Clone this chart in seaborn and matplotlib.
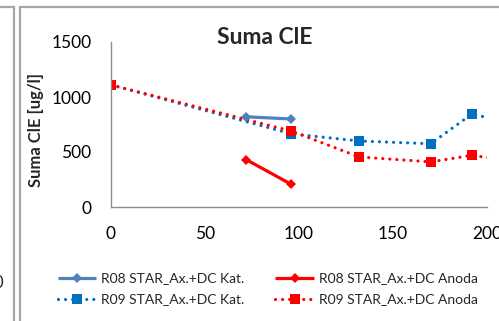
import matplotlib
matplotlib.use("Agg")
import matplotlib.pyplot as plt
from matplotlib.patches import Rectangle
import seaborn as sns
import pandas as pd

# Series data: time [days] vs. sum of chlorinated ethenes [ug/l]
r08_kat_x = [72, 96]
r08_kat_y = [820, 800]
r08_anoda_x = [72, 96]
r08_anoda_y = [430, 205]
r09_kat_x = [0, 96, 132, 170, 192, 216]
r09_kat_y = [1110, 665, 600, 575, 845, 750]
r09_anoda_x = [0, 96, 132, 170, 192, 216]
r09_anoda_y = [1110, 690, 455, 410, 470, 410]

x_ticks = [0, 50, 100, 150, 200]
y_ticks = [0, 500, 1000, 1500]

title = "Suma ClE"
y_label = "Suma ClE [ug/l]"
labels = ["R08 STAR_Ax.+DC Kat.", "R09 STAR_Ax.+DC Kat.",
          "R08 STAR_Ax.+DC Anoda", "R09 STAR_Ax.+DC Anoda"]

sns.set_theme(style="white")
plt.rcParams["font.family"] = ["Lato", "DejaVu Sans"]

W, H = 499, 321
fig = plt.figure(figsize=(W / 100, H / 100), dpi=100)
fig.patch.set_facecolor("white")

# chart frames (this chart and the edge of the neighbouring one)
frame_col = "#a6a6a6"
fig.patches.append(Rectangle((20 / W, -0.2), 1.2, (H - 7) / H + 0.2,
                             transform=fig.transFigure, fill=False,
                             edgecolor=frame_col, lw=1.6))
fig.patches.append(Rectangle((-0.5, -0.2), 0.5 + 14 / W, (H - 7) / H + 0.2,
                             transform=fig.transFigure, fill=False,
                             edgecolor=frame_col, lw=1.6))
fig.text(-6 / W, 1 - 283 / H, "0", fontsize=12, ha="left", va="center")

ax = fig.add_axes([111 / W, 1 - 207 / H, (487 - 111) / W, (207 - 42) / H])
ax.set_facecolor("none")

dot = (0, (0.01, 2.2))

def draw(xs, ys, color, ls, marker, ms, lw, label):
    df = pd.DataFrame({"x": xs, "y": ys})
    sns.lineplot(data=df, x="x", y="y", ax=ax, color=color, linestyle=ls,
                 marker=marker, markersize=ms, markeredgewidth=0,
                 linewidth=lw, sort=False, estimator=None, label=label,
                 dash_capstyle="round", solid_capstyle="butt", clip_on=True)

draw(r09_kat_x, r09_kat_y, "#0070c0", dot, "s", 7, 2.3, labels[1])
draw(r09_anoda_x, r09_anoda_y, "#ff0000", dot, "s", 7, 2.3, labels[3])
draw(r08_kat_x, r08_kat_y, "#4f81bd", "-", "D", 5.5, 2.3, labels[0])
draw(r08_anoda_x, r08_anoda_y, "#ff0000", "-", "D", 5.5, 2.3, labels[2])

ax.set_xlim(0, 200)
ax.set_ylim(0, 1500)
ax.set_xticks(x_ticks)
ax.set_yticks(y_ticks)
ax.set_xlabel("")
ax.set_ylabel("")
for side in ["top", "right"]:
    ax.spines[side].set_visible(False)
for side in ["left", "bottom"]:
    ax.spines[side].set_color("#8c8c8c")
    ax.spines[side].set_linewidth(1.0)
ax.tick_params(axis="both", length=0, labelsize=12.5, colors="black")
ax.tick_params(axis="y", pad=14)
ax.tick_params(axis="x", pad=14)

fig.text(265 / W, 1 - 37 / H, title, fontsize=16.5, fontweight="bold",
         ha="center", va="center")
fig.text(35.5 / W, 1 - 130 / H, y_label, fontsize=12, fontweight="bold",
         rotation=90, ha="center", va="center")

handles, hl = ax.get_legend_handles_labels()
order = [hl.index(l) for l in labels]
ax.legend([handles[i] for i in order], [hl[i] for i in order], ncol=2,
          loc="center left", bbox_to_anchor=(52 / W, 1 - 289 / H),
          bbox_transform=fig.transFigure, frameon=False, fontsize=10,
          handlelength=2.8, handletextpad=0.35, columnspacing=2.2,
          labelspacing=0.65, numpoints=1, borderaxespad=0)

fig.savefig("out.png", dpi=100, facecolor="white")
